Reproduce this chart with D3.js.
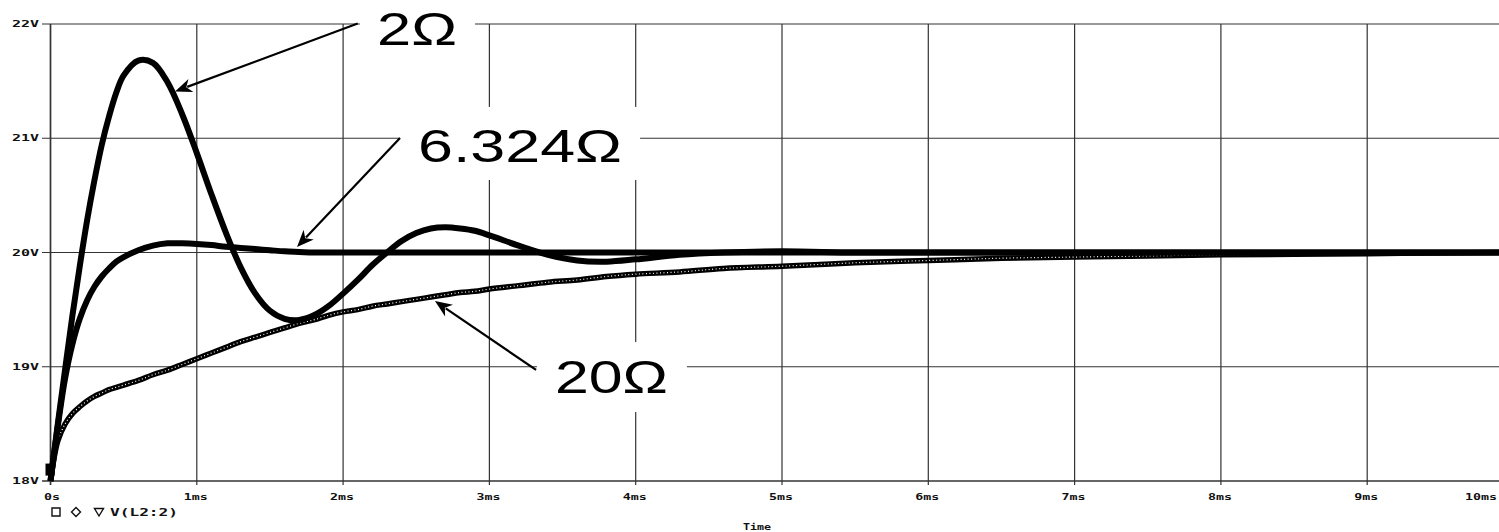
<!DOCTYPE html>
<html>
<head>
<meta charset="utf-8">
<script src="https://cdn.jsdelivr.net/npm/d3@7"></script>
<style>
  html, body { margin: 0; padding: 0; background: #fff; overflow: hidden; }
  svg { display: block; }
</style>
</head>
<body>
<script>
// ---------------- data ----------------
const timeMs = [0,0.05,0.1,0.15,0.2,0.25,0.3,0.35,0.4,0.45,0.5,0.6,0.7,0.8,0.9,1.0,1.1,1.2,1.3,1.4,1.5,1.6,1.7,1.8,1.9,2.0,2.1,2.2,2.3,2.4,2.5,2.6,2.7,2.8,2.9,3.0,3.2,3.4,3.6,3.8,4.0,4.3,4.6,5.0,5.5,6.0,6.5,7.0,7.5,8.0,8.5,9.0,9.5,10.0];

const v2ohm = [18.00,18.50,18.98,19.45,19.88,20.28,20.63,20.94,21.19,21.40,21.55,21.68,21.66,21.49,21.21,20.87,20.51,20.17,19.87,19.64,19.49,19.42,19.41,19.45,19.53,19.64,19.76,19.89,20.00,20.10,20.17,20.21,20.22,20.21,20.19,20.15,20.06,19.98,19.93,19.92,19.94,19.98,20.00,20.01,20.00,20.00,20.00,20.00,20.00,20.00,20.00,20.00,20.00,20.00];

const v6ohm = [18.00,18.48,18.90,19.20,19.42,19.58,19.70,19.79,19.86,19.92,19.96,20.02,20.06,20.08,20.08,20.075,20.065,20.05,20.04,20.03,20.02,20.01,20.005,20.00,20.00,20.00,20.00,20.00,20.00,20.00,20.00,20.00,20.00,20.00,20.00,20.00,20.00,20.00,20.00,20.00,20.00,20.00,20.00,20.00,20.00,20.00,20.00,20.00,20.00,20.00,20.00,20.00,20.00,20.00];

const v20ohm = [18.00,18.35,18.50,18.59,18.65,18.70,18.74,18.77,18.80,18.82,18.84,18.88,18.93,18.97,19.02,19.07,19.12,19.17,19.22,19.26,19.30,19.34,19.38,19.41,19.45,19.48,19.50,19.53,19.55,19.57,19.59,19.61,19.63,19.65,19.66,19.68,19.71,19.74,19.76,19.79,19.81,19.83,19.86,19.88,19.91,19.93,19.95,19.96,19.97,19.98,19.985,19.99,19.995,20.00];

const yTicks = [18, 19, 20, 21, 22];
const yTickLabels = ["18V", "19V", "20V", "21V", "22V"];
const xTicks = [0,1,2,3,4,5,6,7,8,9,10];
const xTickLabels = ["0s","1ms","2ms","3ms","4ms","5ms","6ms","7ms","8ms","9ms","10ms"];
const legendSymbols = ["square", "diamond", "triangleDown"];
const legendLabel = "V(L2:2)";
const xAxisTitle = "Time";

// annotations (data units: t in ms, v in volts)
const annoLabels = ["2\u03A9", "6.324\u03A9", "20\u03A9"];
const annoTextPos = [[2.232, 21.816], [2.512, 20.792], [3.448, 18.770]];
const annoBox = [[2.115, 22.25, 2.902, 21.77], [2.389, 21.274, 4.030, 20.635], [3.325, 19.217, 4.350, 18.604]];
const annoArrowFrom = [[2.100, 22.004], [2.389, 21.002], [3.319, 18.972]];
const annoArrowTo = [[0.851, 21.41], [1.685, 20.048], [2.628, 19.575]];

// ---------------- layout ----------------
const W = 1499, H = 532;
const x = d3.scaleLinear().domain([0, 10]).range([50.5, 1513.5]);
const y = d3.scaleLinear().domain([18, 22]).range([481, 24]);

const svg = d3.select("body").append("svg")
  .attr("width", W).attr("height", H)
  .style("font-family", "'DejaVu Sans Mono', monospace");

const gridColor = "#333";

// horizontal grid lines + left ticks
svg.append("g").selectAll("line").data(yTicks).join("line")
  .attr("x1", 42).attr("x2", W)
  .attr("y1", d => y(d)).attr("y2", d => y(d))
  .attr("stroke", gridColor)
  .attr("stroke-width", d => (d === 18 ? 1.7 : 1.2));

// vertical grid lines
svg.append("g").selectAll("line").data(xTicks).join("line")
  .attr("x1", d => x(d)).attr("x2", d => x(d))
  .attr("y1", y(22)).attr("y2", y(18) + 4)
  .attr("stroke", gridColor)
  .attr("stroke-width", d => (d === 0 ? 1.7 : 1.2));

// y tick labels
svg.append("g").selectAll("text").data(yTicks).join("text")
  .attr("x", 12).attr("y", d => y(d) + 3)
  .attr("font-size", 8).attr("font-weight", "bold")
  .attr("textLength", 27).attr("lengthAdjust", "spacingAndGlyphs")
  .attr("fill", "#111")
  .text((d, i) => yTickLabels[i]);

// x tick labels
svg.append("g").selectAll("text").data(xTicks).join("text")
  .attr("x", d => (d === 10 ? W - 2 : x(d) + (d === 0 ? 1.5 : -1)))
  .attr("y", 500)
  .attr("text-anchor", d => (d === 10 ? "end" : "middle"))
  .attr("font-size", 8).attr("font-weight", "bold")
  .attr("textLength", (d, i) => xTickLabels[i].length * 8)
  .attr("lengthAdjust", "spacingAndGlyphs")
  .attr("fill", "#111")
  .text((d, i) => xTickLabels[i]);

// legend (outlined marker symbols + series name)
const legendX = [56, 76, 99];
const symPaths = {
  square: "M-4,-4H4V4H-4Z",
  diamond: "M0,-4.5L4.5,0L0,4.5L-4.5,0Z",
  triangleDown: "M-4.5,-3.5H4.5L0,4Z"
};
svg.append("g").selectAll("path").data(legendSymbols).join("path")
  .attr("transform", (d, i) => `translate(${legendX[i]},512)`)
  .attr("d", d => symPaths[d])
  .attr("fill", "none").attr("stroke", "#111").attr("stroke-width", 1.4);
svg.append("text")
  .attr("x", 110).attr("y", 516)
  .attr("font-size", 10).attr("font-weight", "bold")
  .attr("textLength", 68).attr("lengthAdjust", "spacingAndGlyphs")
  .attr("fill", "#111")
  .text(legendLabel);

// axis title
svg.append("text")
  .attr("x", 757).attr("y", 530)
  .attr("text-anchor", "middle")
  .attr("font-size", 9).attr("font-weight", "bold")
  .attr("textLength", 28).attr("lengthAdjust", "spacingAndGlyphs")
  .attr("fill", "#111")
  .text(xAxisTitle);

// ---------------- curves ----------------
const line = d3.line()
  .x(d => x(d[0])).y(d => y(d[1]))
  .curve(d3.curveCatmullRom.alpha(0.5));

const s20 = timeMs.map((t, i) => [t, v20ohm[i]]);
const s6 = timeMs.map((t, i) => [t, v6ohm[i]]);
const s2 = timeMs.map((t, i) => [t, v2ohm[i]]);

svg.append("path").attr("d", line(s20))
  .attr("fill", "none").attr("stroke", "#000").attr("stroke-width", 5.5)
  .attr("stroke-linejoin", "round");
svg.append("path").attr("d", line(s20))
  .attr("fill", "none").attr("stroke", "#fff").attr("stroke-width", 1.2)
  .attr("stroke-dasharray", "1 2.5");

svg.append("path").attr("d", line(s6))
  .attr("fill", "none").attr("stroke", "#000").attr("stroke-width", 6)
  .attr("stroke-linejoin", "round");

svg.append("path").attr("d", line(s2))
  .attr("fill", "none").attr("stroke", "#000").attr("stroke-width", 6)
  .attr("stroke-linejoin", "round");

// start-point marker blob
svg.append("rect")
  .attr("x", x(0) - 5).attr("y", y(18.1) - 6)
  .attr("width", 9).attr("height", 12).attr("fill", "#000");

// ---------------- annotations ----------------
const anno = svg.append("g");
annoLabels.forEach((lab, i) => {
  const b = annoBox[i];
  anno.append("rect")
    .attr("x", x(b[0])).attr("y", y(b[1]))
    .attr("width", x(b[2]) - x(b[0])).attr("height", y(b[3]) - y(b[1]))
    .attr("fill", "#fff");
});

const textWidths = [80, 204, 113];
annoLabels.forEach((lab, i) => {
  anno.append("text")
    .attr("x", x(annoTextPos[i][0])).attr("y", y(annoTextPos[i][1]))
    .attr("font-family", "'Liberation Sans', Arial, sans-serif")
    .attr("font-size", 47)
    .attr("textLength", textWidths[i]).attr("lengthAdjust", "spacingAndGlyphs")
    .attr("fill", "#000")
    .text(lab);
});

annoLabels.forEach((lab, i) => {
  const x1 = x(annoArrowFrom[i][0]), y1 = y(annoArrowFrom[i][1]);
  const x2 = x(annoArrowTo[i][0]), y2 = y(annoArrowTo[i][1]);
  const ang = Math.atan2(y2 - y1, x2 - x1);
  const L = 17, Wd = 7;
  const bx = x2 - L * Math.cos(ang), by = y2 - L * Math.sin(ang);
  const nx = -Math.sin(ang), ny = Math.cos(ang);
  anno.append("line")
    .attr("x1", x1).attr("y1", y1)
    .attr("x2", bx + 4 * Math.cos(ang)).attr("y2", by + 4 * Math.sin(ang))
    .attr("stroke", "#000").attr("stroke-width", 2.2);
  const notch = [x2 - (L - 5) * Math.cos(ang), y2 - (L - 5) * Math.sin(ang)];
  anno.append("path")
    .attr("d", `M${x2},${y2} L${bx + Wd * nx},${by + Wd * ny} L${notch[0]},${notch[1]} L${bx - Wd * nx},${by - Wd * ny} Z`)
    .attr("fill", "#000");
});
</script>
</body>
</html>
